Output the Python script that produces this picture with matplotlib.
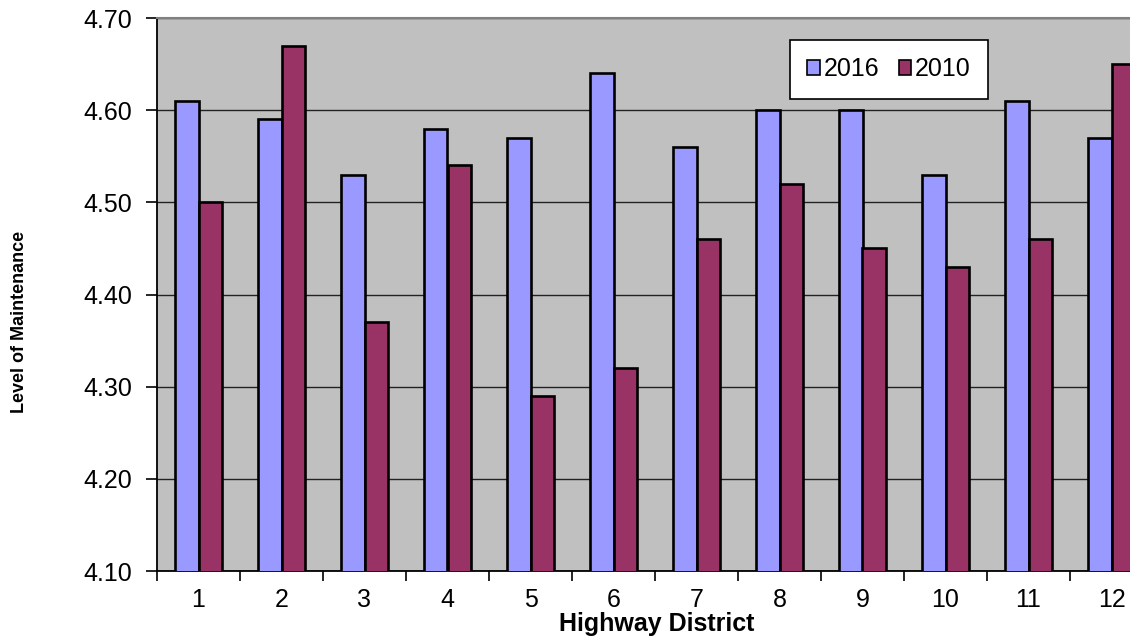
import numpy as np
import matplotlib.pyplot as plt

plt.rcParams['font.family'] = ['Liberation Sans', 'DejaVu Sans']

districts = ['1', '2', '3', '4', '5', '6', '7', '8', '9', '10', '11', '12']
values_2016 = [4.61, 4.59, 4.53, 4.58, 4.57, 4.64, 4.56, 4.60, 4.60, 4.53, 4.61, 4.57]
values_2010 = [4.50, 4.67, 4.37, 4.54, 4.29, 4.32, 4.46, 4.52, 4.45, 4.43, 4.46, 4.65]

W, H = 1130, 638
fig = plt.figure(figsize=(W / 100, H / 100), dpi=100)
# plot area runs past the right edge of the figure
left, right, top, bottom = 157, 1153, 18, 571
ax = fig.add_axes([left / W, 1 - bottom / H, (right - left) / W, (bottom - top) / H])
ax.set_facecolor('#c0c0c0')

x = np.arange(len(districts))
bw = 0.2857
ax.bar(x - bw / 2, values_2016, bw, color='#9999ff', edgecolor='black', linewidth=1.9,
       label='2016', zorder=3)
ax.bar(x + bw / 2, values_2010, bw, color='#993366', edgecolor='black', linewidth=1.9,
       label='2010', zorder=3)

ax.set_xlim(-0.5, len(districts) - 0.5)
ax.set_ylim(4.10, 4.70)
yt = np.arange(4.10, 4.701, 0.10)
ax.set_yticks(yt)
ax.set_yticklabels([f'{v:.2f}' for v in yt])
ax.yaxis.grid(True, color='#222222', linewidth=1.0, zorder=1)

ax.set_xticks(x)
ax.set_xticklabels(districts)
ax.set_xticks(np.arange(-0.5, len(districts), 1), minor=True)
ax.tick_params(axis='x', which='major', length=0, pad=12, labelsize=18)
ax.tick_params(axis='x', which='minor', length=7, width=1.2, direction='out')
ax.tick_params(axis='y', length=8, width=1.2, direction='out', pad=10, labelsize=18)

for side in ['left', 'bottom']:
    ax.spines[side].set_color('black')
    ax.spines[side].set_linewidth(1.3)
ax.spines['top'].set_color('#808080')
ax.spines['top'].set_linewidth(1.5)
ax.spines['right'].set_visible(False)

fig.text(657 / W, 1 - 624 / H, 'Highway District', fontsize=18, fontweight='bold',
         ha='center', va='center')
fig.text(20 / W, 1 - 322 / H, 'Level of Maintenance', rotation=90, fontsize=13,
         fontweight='bold', ha='center', va='center')

leg = ax.legend(loc='center', bbox_to_anchor=(0.735, 0.907), ncol=2, fontsize=18,
                frameon=True, fancybox=False, edgecolor='black', framealpha=1,
                handlelength=0.5, handleheight=0.5, handletextpad=0.15,
                columnspacing=0.8, borderpad=0.7, borderaxespad=0)
leg.get_frame().set_linewidth(1.2)
for h in leg.legend_handles:
    h.set_linewidth(1.2)

fig.savefig('out.png', dpi=100)
